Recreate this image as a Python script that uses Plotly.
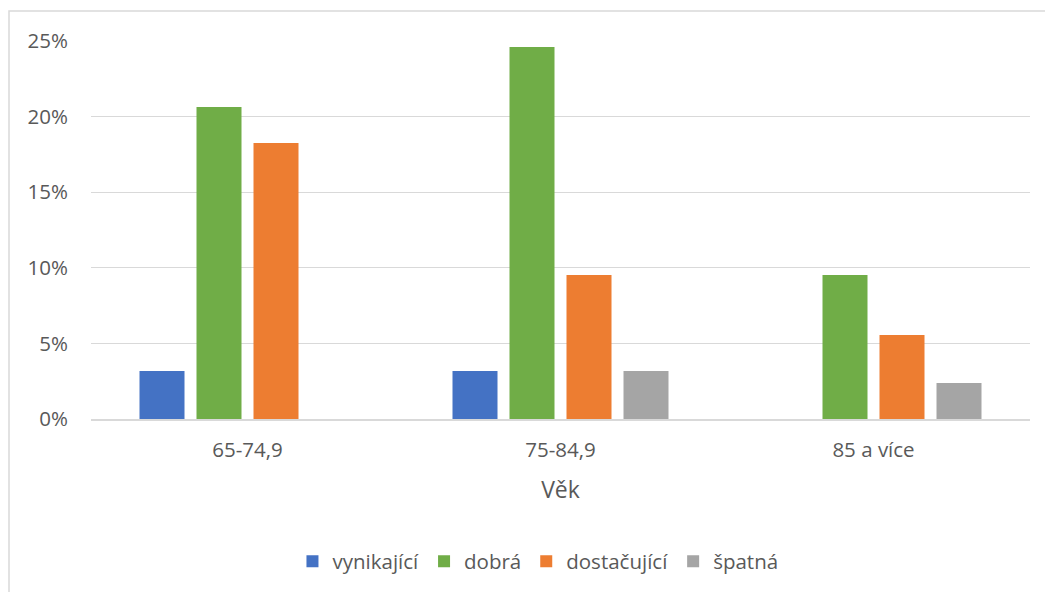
import plotly.graph_objects as go

categories = ["65-74,9", "75-84,9", "85 a více"]
series_names = ["vynikající", "dobrá", "dostačující", "špatná"]
vynikajici = [3.17, 3.17, 0]
dobra = [20.63, 24.60, 9.52]
dostacujici = [18.25, 9.52, 5.56]
spatna = [0, 3.17, 2.38]
colors = ["#4472C4", "#70AD47", "#ED7D31", "#A5A5A5"]
y_ticks = [0, 5, 10, 15, 20, 25]
y_tick_labels = ["0%", "5%", "10%", "15%", "20%", "25%"]

font_family = "Open Sans, Segoe UI, Noto Sans, sans-serif"
text_color = "#595959"

fig = go.Figure()
for name, vals, col in zip(series_names, [vynikajici, dobra, dostacujici, spatna], colors):
    fig.add_trace(go.Bar(x=categories, y=vals, name=name, marker_color=col,
                         marker_line_width=0))

fig.update_layout(
    width=1045, height=592,
    margin=dict(l=91, r=15, t=41, b=172),
    paper_bgcolor="white", plot_bgcolor="white",
    barmode="group", bargap=0.2716, bargroupgap=0.2105,
    font=dict(family=font_family, size=20.5, color=text_color),
    showlegend=True,
    legend=dict(orientation="h", x=0.476, xanchor="center", y=-0.373, yanchor="middle",
                font=dict(size=20.5, color=text_color), itemwidth=30, traceorder="normal"),
    xaxis=dict(showgrid=False, showline=True, linecolor="#d9d9d9", linewidth=1.5,
               ticks="", tickfont=dict(size=20.5, color=text_color),
               ticklabelstandoff=12,
               title=dict(text="Věk", font=dict(size=23, color=text_color), standoff=20)),
    yaxis=dict(range=[0, 25], tickvals=y_ticks, ticktext=y_tick_labels,
               showgrid=True, gridcolor="#d9d9d9", gridwidth=1, zeroline=False,
               showline=False, ticks="", tickfont=dict(size=20.5, color=text_color),
               ticklabelstandoff=22),
    shapes=[dict(type="rect", xref="paper", yref="paper",
                 x0=(9 - 91) / 939, x1=1.3, y0=-1.0, y1=(420 - 11) / 379,
                 line=dict(color="#d9d9d9", width=1.5), fillcolor="rgba(0,0,0,0)",
                 layer="below")],
)

fig.write_html("out.html", config={"displayModeBar": False},
               post_script="document.body.style.margin='0';document.body.style.overflow='hidden';")
